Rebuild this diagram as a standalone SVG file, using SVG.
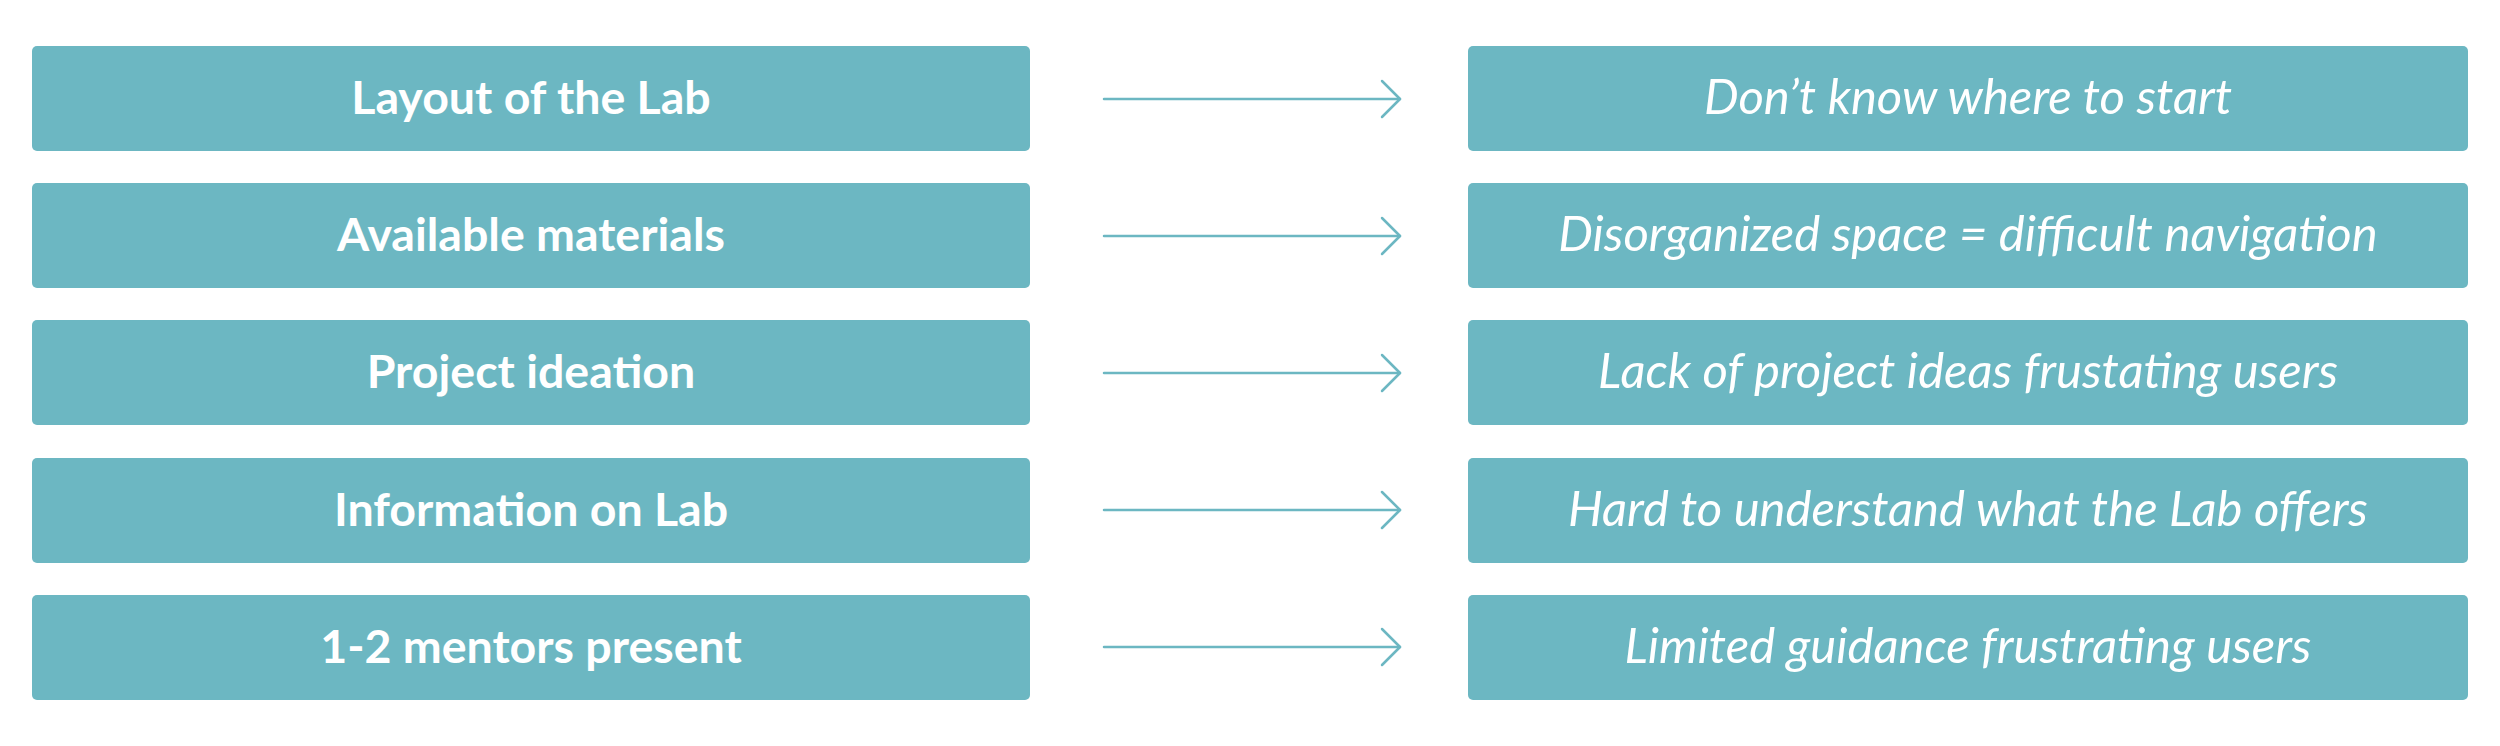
<svg xmlns="http://www.w3.org/2000/svg" width="2500" height="746" viewBox="0 0 2500 746">
<style>
.box{fill:#6cb7c2}
.lt{font-family:Lato,"Open Sans","Liberation Sans",sans-serif;font-weight:bold;font-size:46.5px;fill:#fff;text-anchor:middle}
.rt{font-family:Lato,"Open Sans","Liberation Sans",sans-serif;font-style:italic;font-size:49px;fill:#fff;text-anchor:middle}
.conn{stroke:#6cb7c2;stroke-width:2.5;fill:none;stroke-linecap:round;stroke-linejoin:round}
</style>
<defs>
<marker id="ah" viewBox="-20 -20 24 40" markerWidth="24" markerHeight="40" refX="0" refY="0" orient="auto" markerUnits="userSpaceOnUse">
<path d="M-18,-18 L0,0 L-18,18" class="conn"/>
</marker>
</defs>
<rect width="2500" height="746" fill="#fff"/>
<g id="n1"><rect class="box" x="32" y="46" width="998" height="105" rx="5"/><text class="lt" x="531" y="114">Layout of the Lab</text></g>
<g id="n2"><rect class="box" x="32" y="183" width="998" height="105" rx="5"/><text class="lt" x="531" y="251">Available materials</text></g>
<g id="n3"><rect class="box" x="32" y="320" width="998" height="105" rx="5"/><text class="lt" x="531" y="388">Project ideation</text></g>
<g id="n4"><rect class="box" x="32" y="458" width="998" height="105" rx="5"/><text class="lt" x="531" y="526">Information on Lab</text></g>
<g id="n5"><rect class="box" x="32" y="595" width="998" height="105" rx="5"/><text class="lt" x="531" y="663">1-2 mentors present</text></g>
<g id="m1"><rect class="box" x="1468" y="46" width="1000" height="105" rx="5"/><text class="rt" x="1968" y="114">Don’t know where to start</text></g>
<g id="m2"><rect class="box" x="1468" y="183" width="1000" height="105" rx="5"/><text class="rt" x="1968" y="251">Disorganized space = difficult navigation</text></g>
<g id="m3"><rect class="box" x="1468" y="320" width="1000" height="105" rx="5"/><text class="rt" x="1968" y="388">Lack of project ideas frustating users</text></g>
<g id="m4"><rect class="box" x="1468" y="458" width="1000" height="105" rx="5"/><text class="rt" x="1968" y="526">Hard to understand what the Lab offers</text></g>
<g id="m5"><rect class="box" x="1468" y="595" width="1000" height="105" rx="5"/><text class="rt" x="1968" y="663">Limited guidance frustrating users</text></g>
<g id="connectors">
<line class="conn" x1="1104" y1="99" x2="1400" y2="99" marker-end="url(#ah)"/>
<line class="conn" x1="1104" y1="236" x2="1400" y2="236" marker-end="url(#ah)"/>
<line class="conn" x1="1104" y1="373" x2="1400" y2="373" marker-end="url(#ah)"/>
<line class="conn" x1="1104" y1="510" x2="1400" y2="510" marker-end="url(#ah)"/>
<line class="conn" x1="1104" y1="647" x2="1400" y2="647" marker-end="url(#ah)"/>
</g>
</svg>
